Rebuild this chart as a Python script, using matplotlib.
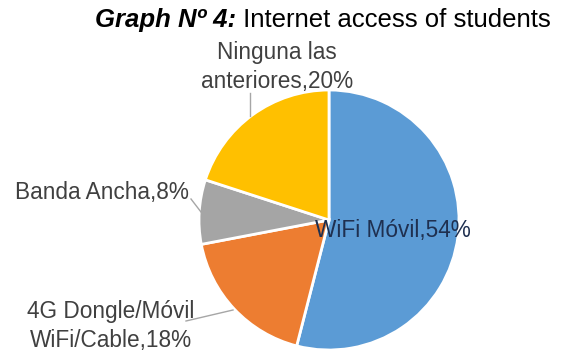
import matplotlib
matplotlib.use('Agg')
import matplotlib.pyplot as plt

labels = ['WiFi Móvil', '4G Dongle/Móvil\nWiFi/Cable', 'Banda Ancha', 'Ninguna las\nanteriores']
shares = [54, 18, 8, 20]
colors = ['#5B9BD5', '#ED7D31', '#A5A5A5', '#FFC000']

plt.rcParams['font.family'] = ['Liberation Sans', 'DejaVu Sans']

W, H = 564, 351
fig = plt.figure(figsize=(W / 100, H / 100), dpi=100)
ax = fig.add_axes([0, 0, 1, 1])

# pie in pixel coordinates (y flipped so that image rows read top-down)
cx, cy, r = 329, 220, 130
ax.pie(shares, colors=colors, startangle=90, counterclock=False,
       center=(cx, H - cy), radius=r,
       wedgeprops=dict(edgecolor='white', linewidth=2))
ax.set_xlim(0, W)
ax.set_ylim(0, H)
ax.axis('off')

lab = [f'{l},{s}%' for l, s in zip(labels, shares)]
fs = 16.3
ax.text(393, H - 230, lab[0], ha='center', va='center', fontsize=fs, color='#1F3050')
ax.text(111, H - 326, lab[1], ha='center', va='center', fontsize=fs, color='#404040',
        linespacing=1.3)
ax.text(102, H - 193, lab[2], ha='center', va='center', fontsize=fs, color='#404040')
ax.text(277, H - 67, lab[3], ha='center', va='center', fontsize=fs, color='#404040',
        linespacing=1.3)

# leader lines
lc = '#A6A6A6'
ax.plot([250, 250], [H - 93, H - 116], color=lc, lw=1)
ax.plot([191, 201], [H - 199, H - 212], color=lc, lw=1)
ax.plot([186, 233], [H - 321, H - 310], color=lc, lw=1)

# title: bold italic prefix followed by regular text
t1 = ax.text(95, H - 20, 'Graph Nº 4:', fontsize=18.5, fontweight='bold',
             fontstyle='italic', va='center', ha='left', color='black')
ax.annotate(' Internet access of students', xy=(1, 0), xycoords=t1,
            fontsize=18.5, va='bottom', ha='left', color='black')

fig.savefig('out.png', dpi=100)
